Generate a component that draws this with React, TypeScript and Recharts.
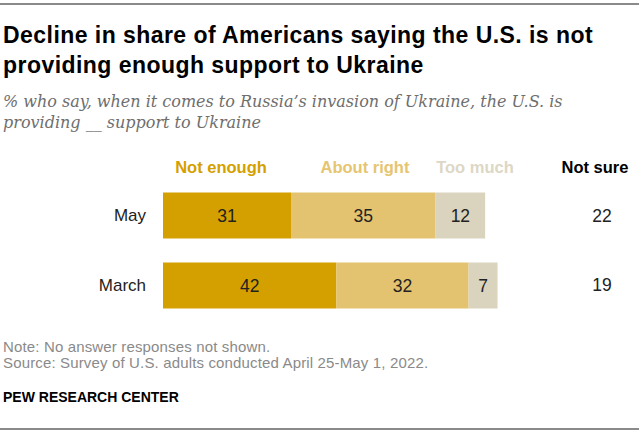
import React from 'react';
import { BarChart, Bar, XAxis, YAxis, LabelList } from 'recharts';

const periods = ['May', 'March'];
const notEnough = [31, 42];
const aboutRight = [35, 32];
const tooMuch = [12, 7];
const notSure = [22, 19];

const seriesNames = ['Not enough', 'About right', 'Too much', 'Not sure'];
const seriesColors = ['#D4A000', '#E3C36F', '#DAD3BE'];
const headerColors = ['#D4A000', '#E6C571', '#DDD7C5', '#000000'];
const headerCenters = [221, 365, 475, 595];

const titleLines = [
  'Decline in share of Americans saying the U.S. is not',
  'providing enough support to Ukraine',
];
const subtitleLines = [
  '% who say, when it comes to Russia\u2019s invasion of Ukraine, the U.S. is',
  'providing __ support to Ukraine',
];
const noteText = 'Note: No answer responses not shown.';
const sourceText = 'Source: Survey of U.S. adults conducted April 25-May 1, 2022.';
const creditText = 'PEW RESEARCH CENTER';

const data = periods.map((p, i) => ({
  period: p,
  notEnough: notEnough[i],
  aboutRight: aboutRight[i],
  tooMuch: tooMuch[i],
  notSure: notSure[i],
}));

const SANS = '"Liberation Sans", Arial, sans-serif';

const LeftTick = (props: any) => {
  const { x, y, payload } = props;
  return (
    <text x={x} y={y} dy="0.35em" textAnchor="end" fontFamily={SANS} fontSize={17} fill="#222">
      {payload.value}
    </text>
  );
};

const RightTick = (props: any) => {
  const { x, y, payload } = props;
  return (
    <text x={x} y={y} dy="0.35em" textAnchor="middle" fontFamily={SANS} fontSize={17.5} fill="#222">
      {payload.value}
    </text>
  );
};

export default function App() {
  return (
    <div
      style={{
        position: 'absolute',
        left: 0,
        top: 0,
        width: 639,
        height: 435,
        background: '#fff',
        overflow: 'hidden',
        fontFamily: SANS,
      }}
    >
      <div style={{ position: 'absolute', left: 0, top: 3, width: 639, height: 2, background: '#8a8a8a' }} />
      <div
        style={{
          position: 'absolute',
          left: 3,
          top: 21.4,
          fontSize: 23,
          lineHeight: '29.3px',
          fontWeight: 700,
          color: '#000',
          whiteSpace: 'nowrap',
          letterSpacing: 0.45,
        }}
      >
        {titleLines.map((t, i) => (
          <div key={i}>{t}</div>
        ))}
      </div>
      <div
        style={{
          position: 'absolute',
          left: 3,
          top: 91.2,
          fontSize: 16,
          lineHeight: '21px',
          fontStyle: 'italic',
          fontFamily: '"DejaVu Serif", serif',
          color: '#6e6e6e',
          whiteSpace: 'nowrap',
        }}
      >
        {subtitleLines.map((t, i) => (
          <div key={i}>{t}</div>
        ))}
      </div>

      {seriesNames.map((n, i) => (
        <div
          key={n}
          style={{
            position: 'absolute',
            left: headerCenters[i] - 60,
            width: 120,
            top: 157,
            textAlign: 'center',
            fontSize: 16.5,
            lineHeight: '20px',
            fontWeight: 700,
            color: headerColors[i],
            whiteSpace: 'nowrap',
          }}
        >
          {n}
        </div>
      ))}

      <div style={{ position: 'absolute', left: 0, top: 0 }}>
        <BarChart
          width={639}
          height={330}
          data={data}
          layout="vertical"
          margin={{ top: 180.6, right: 0, bottom: 9.8, left: 0 }}
        >
          <XAxis type="number" domain={[0, 100]} hide />
          <YAxis
            type="category"
            dataKey="period"
            width={163}
            axisLine={false}
            tickLine={false}
            tickSize={0}
            tickMargin={17}
            tick={<LeftTick />}
          />
          <YAxis
            yAxisId="right"
            orientation="right"
            type="category"
            dataKey="notSure"
            width={63}
            axisLine={false}
            tickLine={false}
            tickSize={0}
            tickMargin={26}
            tick={<RightTick />}
          />
          <Bar dataKey="notEnough" stackId="a" fill={seriesColors[0]} barSize={46} isAnimationActive={false}>
            <LabelList dataKey="notEnough" position="center" fill="#222" fontSize={17.5} fontFamily={SANS} />
          </Bar>
          <Bar dataKey="aboutRight" stackId="a" fill={seriesColors[1]} barSize={46} isAnimationActive={false}>
            <LabelList dataKey="aboutRight" position="center" fill="#222" fontSize={17.5} fontFamily={SANS} />
          </Bar>
          <Bar dataKey="tooMuch" stackId="a" fill={seriesColors[2]} barSize={46} isAnimationActive={false}>
            <LabelList dataKey="tooMuch" position="center" fill="#222" fontSize={17.5} fontFamily={SANS} />
          </Bar>
        </BarChart>
      </div>

      <div style={{ position: 'absolute', left: 3, top: 338.8, fontSize: 15, lineHeight: '16px', letterSpacing: 0.15, color: '#8a8a8a', whiteSpace: 'nowrap' }}>
        {noteText}
      </div>
      <div style={{ position: 'absolute', left: 3, top: 354.8, fontSize: 15, lineHeight: '16px', letterSpacing: 0.15, color: '#8a8a8a', whiteSpace: 'nowrap' }}>
        {sourceText}
      </div>
      <div style={{ position: 'absolute', left: 3, top: 390.3, fontSize: 14, lineHeight: '15px', fontWeight: 700, color: '#000', whiteSpace: 'nowrap' }}>
        {creditText}
      </div>
      <div style={{ position: 'absolute', left: 0, top: 428, width: 639, height: 2, background: '#8a8a8a' }} />
    </div>
  );
}
